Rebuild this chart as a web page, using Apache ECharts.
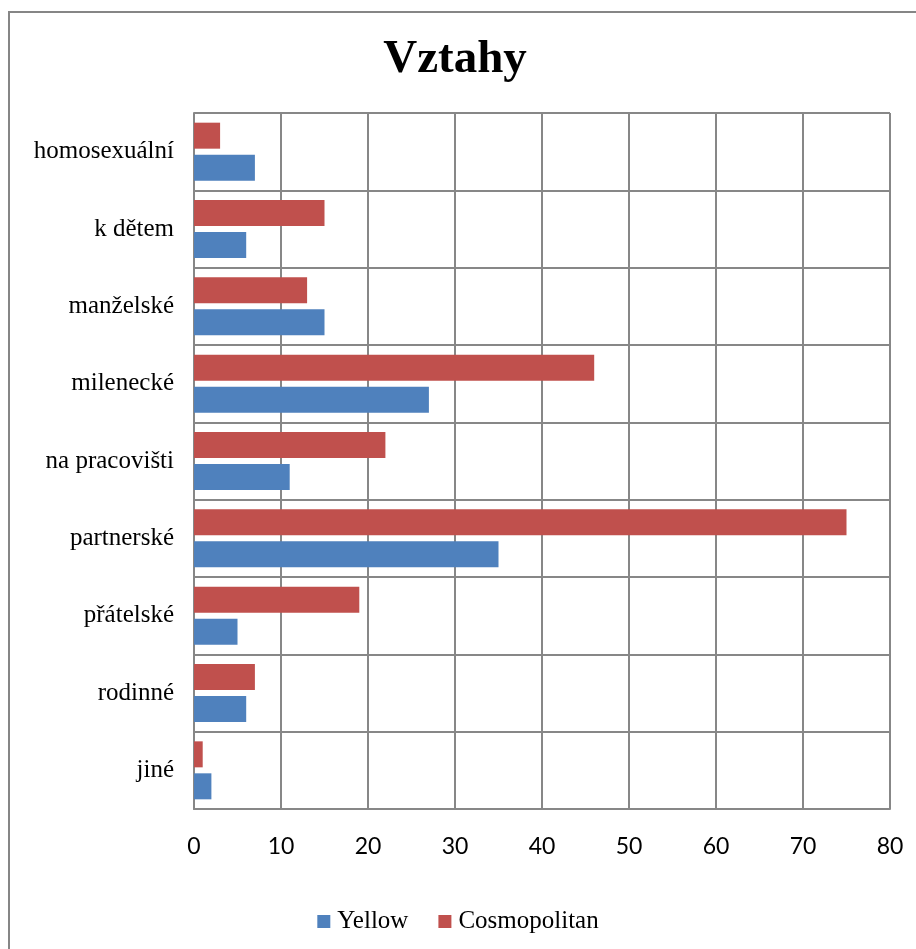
<!DOCTYPE html>
<html><head><meta charset="utf-8">
<script src="https://cdn.jsdelivr.net/npm/echarts@6/dist/echarts.min.js"></script>
<style>html,body{margin:0;padding:0;background:#fff}#c{width:916px;height:949px}</style>
</head><body><div id="c"></div>
<script>
const categories = ['homosexuální','k dětem','manželské','milenecké','na pracovišti','partnerské','přátelské','rodinné','jiné'];
const yellow = [7, 6, 15, 27, 11, 35, 5, 6, 2];
const cosmopolitan = [3, 15, 13, 46, 22, 75, 19, 7, 1];
const xTicks = {min: 0, max: 80, interval: 10};

const chart = echarts.init(document.getElementById('c'), null, {renderer: 'canvas'});
chart.setOption({
  animation: false,
  backgroundColor: '#fff',
  title: {text: 'Vztahy', left: 450, textAlign: 'center', top: 31,
    textStyle: {fontFamily: 'Liberation Serif', fontWeight: 'bold', fontSize: 47, color: '#000'}},
  graphic: [{type: 'rect', shape: {x: 9, y: 12, width: 1000, height: 1000},
    style: {fill: 'none', stroke: '#868686', lineWidth: 2}, silent: true}],
  legend: {bottom: 10, left: 'center', itemWidth: 13, itemHeight: 13, itemGap: 30,
    icon: 'rect', data: ['Yellow', 'Cosmopolitan'],
    textStyle: {fontFamily: 'Liberation Serif', fontSize: 25, color: '#000', padding: [0,0,0,2]}},
  grid: {left: 194, right: 26, top: 113, bottom: 140, containLabel: false},
  xAxis: {type: 'value', min: xTicks.min, max: xTicks.max, interval: xTicks.interval,
    axisLine: {show: true, lineStyle: {color: '#878787', width: 2}},
    axisTick: {show: false},
    splitLine: {show: true, lineStyle: {color: '#878787', width: 2}},
    axisLabel: {fontFamily: 'Lato', fontSize: 23, color: '#000', margin: 26}},
  yAxis: {type: 'category', data: categories, inverse: true,
    axisLine: {show: true, lineStyle: {color: '#878787', width: 2}},
    axisTick: {show: false},
    splitLine: {show: true, lineStyle: {color: '#878787', width: 2}},
    axisLabel: {fontFamily: 'Liberation Serif', fontSize: 25, color: '#000', margin: 20,
      padding: [6, 0, 0, 0]}},
  series: [
    {name: 'Cosmopolitan', type: 'bar', data: cosmopolitan, barWidth: 26, barGap: '23%',
      itemStyle: {color: '#C0504D'}},
    {name: 'Yellow', type: 'bar', data: yellow, barWidth: 26, barGap: '23%',
      itemStyle: {color: '#4F81BD'}}
  ]
});
</script></body></html>
